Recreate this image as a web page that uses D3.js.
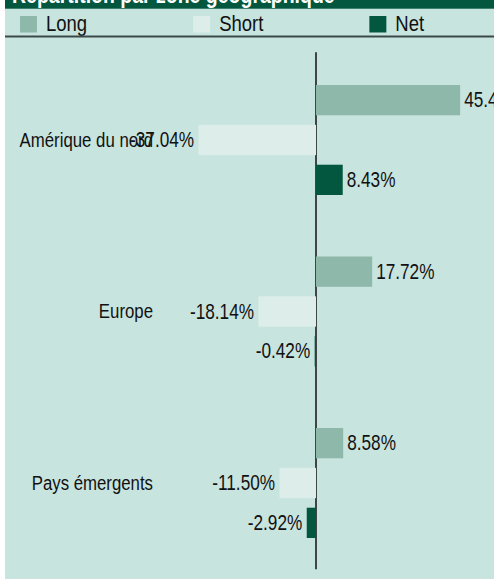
<!DOCTYPE html>
<html>
<head>
<meta charset="utf-8">
<script src="https://cdn.jsdelivr.net/npm/d3@7"></script>
<style>
  html, body { margin: 0; padding: 0; background: #ffffff; }
  svg { display: block; }
  text { font-family: "Liberation Sans", Arial, sans-serif; }
</style>
</head>
<body>
<svg id="chart" width="494" height="579"></svg>
<script>
const title = "Répartition par zone géographique";
const categories = ["Amérique du nord", "Europe", "Pays émergents"];
const series = ["Long", "Short", "Net"];
const longValues = [45.47, 17.72, 8.58];
const shortValues = [-37.04, -18.14, -11.50];
const netValues = [8.43, -0.42, -2.92];
const colors = ["#8eb8a9", "#ddeeea", "#02573e"];

const W = 494, H = 579;
const SY = 1.24; // vertical text stretch seen in the reference
const svg = d3.select("#chart");

// panel + banner
svg.append("rect").attr("x", 5).attr("y", 0).attr("width", W - 5).attr("height", H).attr("fill", "#c8e4df");
svg.append("rect").attr("x", 5).attr("y", 0).attr("width", W - 5).attr("height", 8.7).attr("fill", "#02573e");
svg.append("text").attr("transform", `translate(12,2.5) scale(1,${SY})`).attr("fill", "#ffffff")
  .attr("font-weight", "bold").attr("font-size", "19.5px").text(title);

// legend (items laid out by measured text width)
const lg = svg.append("g").selectAll("g").data(series).join("g");
lg.append("rect").attr("width", 17).attr("height", 16.5).attr("fill", (d, i) => colors[i]);
lg.append("text").attr("transform", `translate(26,14.5) scale(1,${SY})`)
  .attr("font-size", "18.5px").attr("fill", "#111").text(d => d);
let lx = 20;
lg.each(function () {
  d3.select(this).attr("transform", `translate(${lx},16)`);
  lx += 26 + d3.select(this).select("text").node().getComputedTextLength() + 106;
});
svg.append("line").attr("x1", 5).attr("x2", W).attr("y1", 36.5).attr("y2", 36.5)
  .attr("stroke", "#3b4a48").attr("stroke-width", 2);

// scales
const y = d3.scaleBand().domain(categories).range([54.25, 568.75]);
const yInner = d3.scaleBand().domain(series).range([30.75, 140.75]).paddingInner(0.24);
const x = d3.scaleLinear().domain([-50, 50]).range([157.5, 474.5]);

// axis at zero
svg.append("line").attr("x1", x(0)).attr("x2", x(0))
  .attr("y1", y.range()[0] - 2).attr("y2", y.range()[1] + 0.5)
  .attr("stroke", "#111").attr("stroke-width", 1.5);

const rows = [];
categories.forEach((c, i) => {
  [longValues[i], shortValues[i], netValues[i]].forEach((v, j) => {
    rows.push({ cat: c, ser: series[j], v, color: colors[j] });
  });
});

svg.append("g").selectAll("rect").data(rows).join("rect")
  .attr("x", d => x(Math.min(0, d.v)))
  .attr("width", d => Math.abs(x(d.v) - x(0)))
  .attr("y", d => y(d.cat) + yInner(d.ser))
  .attr("height", yInner.bandwidth())
  .attr("fill", d => d.color);

const midY = d => y(d.cat) + yInner(d.ser) + yInner.bandwidth() / 2;

svg.append("g").selectAll("text").data(rows).join("text")
  .attr("transform", d => `translate(${d.v >= 0 ? x(d.v) + 4 : x(d.v) - 4.5},${midY(d)}) scale(1,${SY})`)
  .attr("dy", "0.33em")
  .attr("text-anchor", d => d.v >= 0 ? "start" : "end")
  .attr("font-size", "17.2px").attr("fill", "#111")
  .text(d => d.v.toFixed(2) + "%");

svg.append("g").selectAll("text").data(categories).join("text")
  .attr("transform", d => `translate(153,${midY({ cat: d, ser: "Short" })}) scale(1,${SY})`)
  .attr("dy", "0.33em")
  .attr("text-anchor", "end")
  .attr("font-size", "16.8px").attr("fill", "#111")
  .text(d => d);
</script>
</body>
</html>
